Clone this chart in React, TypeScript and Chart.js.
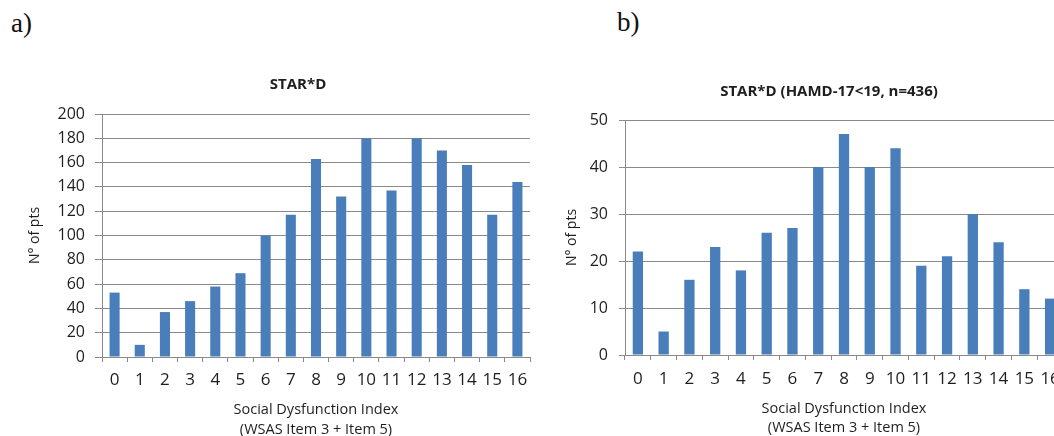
import React, { useEffect, useRef } from 'react';
import { Chart, registerables } from 'chart.js';

Chart.register(...registerables);

const categories = ['0', '1', '2', '3', '4', '5', '6', '7', '8', '9', '10', '11', '12', '13', '14', '15', '16'];
const seriesA = [53, 10, 37, 46, 58, 69, 100, 117, 163, 132, 180, 137, 180, 170, 158, 117, 144];
const seriesB = [22, 5, 16, 23, 18, 26, 27, 40, 47, 40, 44, 19, 21, 30, 24, 14, 12];
const titleA = 'STAR*D';
const titleB = 'STAR*D (HAMD-17<19, n=436)';
const xAxisTitle = ['Social Dysfunction Index', '(WSAS Item 3 + Item 5)'];
const yAxisTitle = 'N° of pts';
const yRangeA = [0, 200, 20];
const yRangeB = [0, 50, 10];
const panelLabels = ['a)', 'b)'];

const FONT = "'Open Sans', 'Noto Sans', sans-serif";
const BAR = '#4a7ebb';
const GRID = '#8a8a8a';
const TEXT = '#1e1e1e';

type Geo = {
  width: number;
  height: number;
  yW: number;
  rightW: number;
  xH: number;
  titleTop: number;
  titleBottom: number;
  yTitlePad: number;
  yTickLen: number;
  yTickPad: number;
  xTickPad: number;
  xTitleLH: number;
};

function makeChart(canvas: HTMLCanvasElement, data: number[], title: string, range: number[], g: Geo) {
  return new Chart(canvas, {
    type: 'bar',
    data: {
      labels: categories,
      datasets: [
        {
          data,
          backgroundColor: BAR,
          borderWidth: 0,
          barPercentage: 0.4,
          categoryPercentage: 1.0,
        },
      ],
    },
    options: {
      responsive: false,
      animation: false,
      devicePixelRatio: 1,
      layout: { padding: 0 },
      plugins: {
        legend: { display: false },
        tooltip: { enabled: false },
        title: {
          display: true,
          text: title,
          color: TEXT,
          font: { family: FONT, size: 15, weight: 'bold', lineHeight: 1.2 },
          padding: { top: g.titleTop, bottom: g.titleBottom },
        },
      },
      scales: {
        x: {
          type: 'category',
          offset: true,
          grid: {
            offset: true,
            drawOnChartArea: false,
            drawTicks: true,
            tickLength: 5,
            color: GRID,
          },
          border: { display: true, color: GRID, width: 1 },
          ticks: {
            autoSkip: false,
            maxRotation: 0,
            minRotation: 0,
            padding: g.xTickPad,
            color: TEXT,
            font: { family: FONT, size: 17 },
          },
          title: {
            display: true,
            text: xAxisTitle,
            color: TEXT,
            font: { family: FONT, size: 14.5, lineHeight: g.xTitleLH / 14.5 },
            padding: { top: 0, bottom: 0 },
          },
          afterFit: (s: any) => {
            s.height = g.xH;
          },
        },
        y: {
          type: 'linear',
          position: 'left',
          min: range[0],
          max: range[1],
          grid: {
            drawTicks: true,
            tickLength: g.yTickLen,
            color: GRID,
            lineWidth: 1,
          },
          border: { display: true, color: GRID, width: 1 },
          ticks: {
            stepSize: range[2],
            padding: g.yTickPad,
            color: TEXT,
            font: { family: FONT, size: 16 },
          },
          title: {
            display: true,
            text: yAxisTitle,
            color: TEXT,
            font: { family: FONT, size: 14, lineHeight: 1.2 },
            padding: { top: g.yTitlePad, bottom: 0 },
          },
          afterFit: (s: any) => {
            s.width = g.yW;
          },
        },
        yRight: {
          type: 'linear',
          position: 'right',
          display: true,
          grid: { display: false, drawTicks: false },
          border: { display: false },
          ticks: { display: false },
          afterFit: (s: any) => {
            s.width = g.rightW;
          },
        },
      },
    },
  } as any);
}

const geoA: Geo = {
  width: 596,
  height: 440,
  yW: 102,
  rightW: 66,
  xH: 83,
  titleTop: 76,
  titleBottom: 20,
  yTitlePad: 27,
  yTickLen: 7,
  yTickPad: 10,
  xTickPad: 8,
  xTitleLH: 20,
};

const geoB: Geo = {
  width: 538,
  height: 437,
  yW: 65,
  rightW: 35,
  xH: 82,
  titleTop: 83,
  titleBottom: 19,
  yTitlePad: 3.6,
  yTickLen: 6,
  yTickPad: 11,
  xTickPad: 9,
  xTitleLH: 19,
};

export default function App() {
  const refA = useRef<HTMLCanvasElement>(null);
  const refB = useRef<HTMLCanvasElement>(null);

  useEffect(() => {
    const a = makeChart(refA.current!, seriesA, titleA, yRangeA, geoA);
    const b = makeChart(refB.current!, seriesB, titleB, yRangeB, geoB);
    return () => {
      a.destroy();
      b.destroy();
    };
  }, []);

  const labelStyle: React.CSSProperties = {
    position: 'absolute',
    fontFamily: "'Liberation Serif', 'DejaVu Serif', serif",
    fontSize: 27,
    lineHeight: 1,
    color: '#111',
    margin: 0,
  };

  return (
    <div
      style={{
        position: 'fixed',
        left: 0,
        top: 0,
        width: 1054,
        height: 436,
        overflow: 'hidden',
        background: '#ffffff',
      }}
    >
      <div style={{ ...labelStyle, left: 11, top: 10 }}>{panelLabels[0]}</div>
      <div style={{ ...labelStyle, left: 617, top: 9 }}>{panelLabels[1]}</div>
      <canvas
        ref={refA}
        width={geoA.width}
        height={geoA.height}
        style={{ position: 'absolute', left: 0, top: 0, width: geoA.width, height: geoA.height }}
      />
      <canvas
        ref={refB}
        width={geoB.width}
        height={geoB.height}
        style={{ position: 'absolute', left: 560, top: 0, width: geoB.width, height: geoB.height }}
      />
    </div>
  );
}
